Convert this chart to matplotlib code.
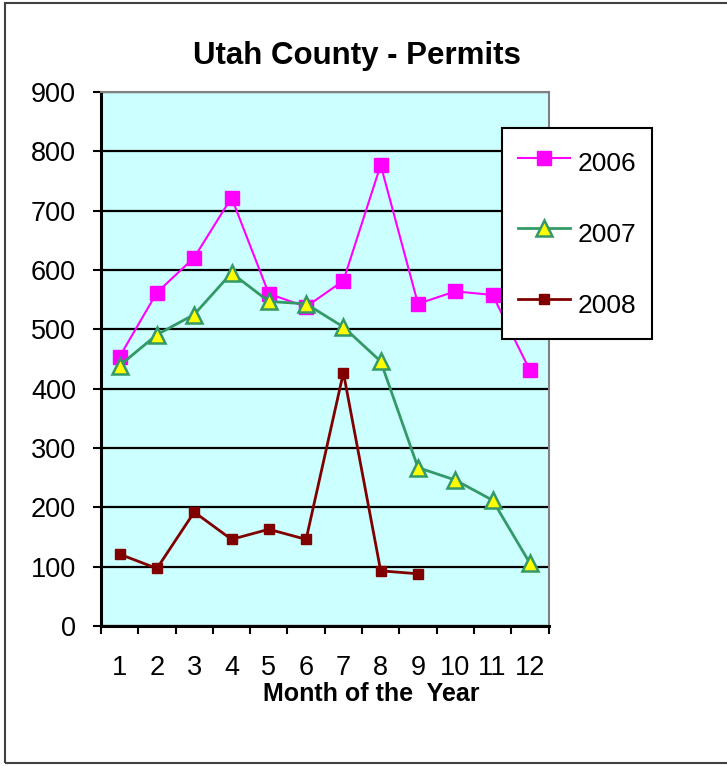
import numpy as np
import matplotlib
matplotlib.use("Agg")
import matplotlib.pyplot as plt
from matplotlib.patches import Rectangle

# Utah County building permits by month
months = np.arange(1, 13)
month_labels = [str(m) for m in months]
permits_2006 = [454, 562, 621, 722, 560, 538, 582, 777, 543, 564, 558, 431]
permits_2007 = [439, 491, 525, 595, 547, 543, 504, 446, 267, 246, 212, 106]
months_2008 = np.arange(1, 10)
permits_2008 = [121, 97, 192, 146, 163, 146, 427, 93, 88]
y_ticks = np.arange(0, 1000, 100)

plt.rcParams['font.family'] = ['Liberation Sans', 'DejaVu Sans']

fig = plt.figure(figsize=(7.27, 7.66), dpi=100)
fig.patch.set_facecolor('white')

# outer chart border (right edge is cut off in the reference)
fig.patches.append(Rectangle((5 / 727, 3 / 766), 1.0, 760 / 766,
                             transform=fig.transFigure, fill=False,
                             edgecolor='#404040', linewidth=1.5))

ax = fig.add_axes([101 / 727, 1 - 626 / 766, 447.5 / 727, 534 / 766])
ax.set_facecolor('#CCFFFF')

ax.plot(months, permits_2006, color='#FF00FF', linewidth=1.5, marker='s',
        markersize=10, markerfacecolor='#FF00FF', markeredgecolor='#FF00FF',
        label='2006', zorder=4)
ax.plot(months, permits_2007, color='#339966', linewidth=2, marker='^',
        markersize=11, markerfacecolor='#FFFF00', markeredgecolor='#339966',
        markeredgewidth=1.8, label='2007', zorder=5)
ax.plot(months_2008, permits_2008, color='#800000', linewidth=2, marker='s',
        markersize=7, markerfacecolor='#800000', markeredgecolor='#800000',
        label='2008', zorder=6)

ax.set_xlim(0.5, 12.5)
ax.set_ylim(0, 900)
ax.set_yticks(y_ticks)
ax.yaxis.grid(True, color='black', linewidth=1.6)
ax.set_axisbelow(True)

ax.set_xticks(months)
ax.set_xticklabels(month_labels)
ax.set_xticks(np.arange(0.5, 13, 1), minor=True)
ax.tick_params(axis='x', which='major', length=0, pad=21, labelsize=19.5)
ax.tick_params(axis='x', which='minor', length=6, width=1.5, direction='out')
ax.tick_params(axis='y', length=6, width=1.5, direction='out', pad=12,
               labelsize=19.5)

for side in ['left', 'bottom']:
    ax.spines[side].set_linewidth(2.2)
    ax.spines[side].set_color('black')
for side in ['top', 'right']:
    ax.spines[side].set_linewidth(1.5)
    ax.spines[side].set_color('#808080')

fig.text(357 / 727, 1 - 56 / 766, 'Utah County - Permits', fontsize=22.5,
         fontweight='bold', ha='center', va='center')
fig.text(371 / 727, 1 - 694 / 766, 'Month of the  Year', fontsize=18,
         fontweight='bold', ha='center', va='center')

leg = fig.legend(loc='upper left', bbox_to_anchor=(502 / 727, 1 - 128 / 766),
                 fontsize=19, frameon=True, fancybox=False, framealpha=1,
                 borderaxespad=0, borderpad=0.6, labelspacing=1.22,
                 handleheight=1.86, handlelength=1.97, handletextpad=0.3)
leg.get_frame().set_edgecolor('black')
leg.get_frame().set_linewidth(1.5)

fig.savefig('out.png', dpi=100, facecolor='white')
